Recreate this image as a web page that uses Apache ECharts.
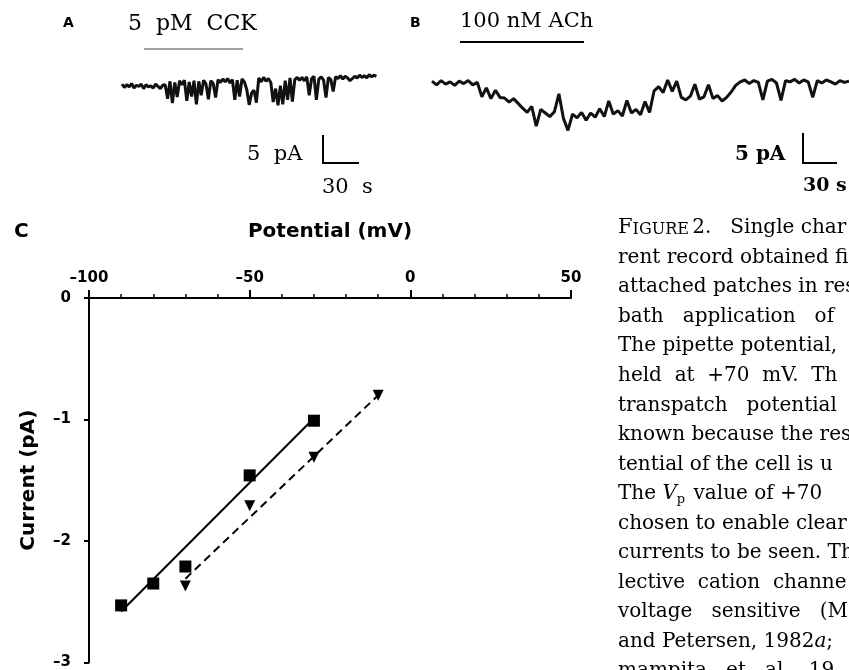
<!DOCTYPE html>
<html>
<head>
<meta charset="utf-8">
<script src="https://cdn.jsdelivr.net/npm/echarts@6/dist/echarts.min.js"></script>
<style>
  html, body { margin: 0; padding: 0; background: #fff; }
  #chart { width: 849px; height: 670px; }
</style>
</head>
<body>
<div id="chart"></div>
<script>
// trace A: 5 pM CCK, current (pA) sampled every 2 s
const dtA = 2
const traceA = [
  -0.2, -0.8, -0.3, -0.7, -0.1, -0.9, -0.4, -0.6, -0.2, -1.0, -0.3, -0.7, -0.5, -0.9, -0.2, -0.6, -1.0, -0.4, -0.3,
  -2.8, 0.3, -3.6, 0.1, -2.5, 0.4, -0.3, 0.5, -3.2, 0.2, -2.4, 0.4, -3.8, 0.3, -2.2, 0.5, -0.2, -2.9, 0.4, -0.1,
  -2.6, 0.6, 0.1, 0.7, 0.2, 0.8, 0.0, 0.6, -3.0, 0.5, -2.4, 0.7, 0.2,
  -1.2, -3.9, -1.8, -1.3, -3.5,
  0.9, 0.2, 1.0, 0.3, 0.8, 0.1, -3.4,
  -1.0, -4.0, -0.5, -3.8,
  0.4, -3.0, 0.9, -3.3, 0.6, 1.0, 0.5,
  1.0, 0.4, 1.1, -2.2, 0.8, 1.2, -3.0, 0.7, 1.1, 0.5, -2.6, 1.0, 0.6, -1.5, 1.1, 0.8,
  1.3, 0.7, 1.2, 0.9, 0.4, 0.8, 1.2, 0.9, 1.4, 1.0, 1.3, 0.9, 1.5, 1.1, 1.4, 1.2
]

// trace B: 100 nM ACh, current (pA) sampled every 4 s
const dtB = 4
const traceB = [
  0.3, -0.3, 0.4, -0.2, 0.2, -0.4, 0.3, -0.1, 0.4, -0.3, 0.1,
  -2.3, -0.8, -2.6, -1.2, -2.4,
  -2.5, -3.2, -2.6, -3.4,
  -4.2, -4.9, -3.9, -7.2, -4.4, -5.0,
  -5.6, -4.8, -1.8, -5.9, -7.9, -5.2, -5.8, -4.9, -6.2, -5.0, -5.7,
  -4.3, -5.6, -3.0, -5.2, -4.6, -5.5, -2.9, -5.0, -4.4, -5.3, -3.1, -4.9,
  -1.3, -0.6, -1.6, 0.5, -1.4, 0.3,
  -2.4, -2.8, -2.2, -0.2, -2.7, -2.3, -0.3, -2.6, -2.1, -3.0, -2.4,
  -1.5, -0.4,
  0.2, 0.5, -0.1, 0.4, 0.1, -2.8, 0.3, 0.6, 0.0, -2.9, 0.4, 0.2, 0.6, 0.0, 0.5, 0.2, -2.4, 0.4, 0.0, 0.5, 0.2, -0.2, 0.4, 0.1, 0.3
]

// panel C: single channel current vs potential
const squareV = [-90, -80, -70, -50, -30]
const squareI = [-2.53, -2.35, -2.21, -1.46, -1.01]
const triV = [-70, -50, -30, -10]
const triI = [-2.37, -1.71, -1.31, -0.80]
// regression lines (end points)
const fitSolidV = [-90, -30]
const fitSolidI = [-2.58, -0.99]
const fitDashV = [-70, -10]
const fitDashI = [-2.31, -0.80]

const caption = [
  '{sc|F}{sm|IGURE} {t|2.   Single char}',
  '{t|rent record obtained fi}',
  '{t|attached patches in res}',
  '{t|bath   application   of}',
  '{t|The pipette potential,}',
  '{t|held  at  +70  mV.  Th}',
  '{t|transpatch   potential}',
  '{t|known because the res}',
  '{t|tential of the cell is u}',
  '{t|The }{i|V}{sub|p}{t| value of +70}',
  '{t|chosen to enable clear}',
  '{t|currents to be seen. Th}',
  '{t|lective  cation  channe}',
  '{t|voltage   sensitive   (M}',
  '{t|and Petersen, 1982}{i|a}{t|;}',
  '{t|mampita   et   al.   19}'
]

const serif = 'DejaVu Serif'
const sans = 'DejaVu Sans'

function toPairs (xs, ys) {
  return xs.map((x, i) => [x, ys[i]])
}

let graphic = []

// panel letters
graphic.push({ type: 'text', x: 63, y: 23, style: { text: 'A', font: 'bold 14px ' + sans, fill: '#000', textVerticalAlign: 'middle' } })
graphic.push({ type: 'text', x: 410, y: 23, style: { text: 'B', font: 'bold 14px ' + sans, fill: '#000', textVerticalAlign: 'middle' } })
graphic.push({ type: 'text', x: 14, y: 232, style: { text: 'C', font: 'bold 20px ' + sans, fill: '#000', textVerticalAlign: 'middle' } })

// drug application labels + bars
graphic.push({ type: 'text', x: 128, y: 24, style: { text: '5  pM  CCK', font: '22px ' + serif, fill: '#000', textVerticalAlign: 'middle' } })
graphic.push({ type: 'line', shape: { x1: 144, y1: 49, x2: 243, y2: 49 }, style: { stroke: '#444', lineWidth: 1.2 } })
graphic.push({ type: 'text', x: 460, y: 22, style: { text: '100 nM ACh', font: '21px ' + serif, fill: '#000', textVerticalAlign: 'middle' } })
graphic.push({ type: 'line', shape: { x1: 460, y1: 42, x2: 584, y2: 42 }, style: { stroke: '#000', lineWidth: 2 } })

// scale bars
graphic.push({ type: 'polyline', shape: { points: [[323, 135], [323, 163], [359, 163]] }, style: { stroke: '#000', lineWidth: 2, fill: null } })
graphic.push({ type: 'text', x: 247, y: 155, style: { text: '5  pA', font: '21px ' + serif, fill: '#000', textVerticalAlign: 'middle' } })
graphic.push({ type: 'text', x: 322, y: 188, style: { text: '30  s', font: '21px ' + serif, fill: '#000', textVerticalAlign: 'middle' } })
graphic.push({ type: 'polyline', shape: { points: [[803, 133], [803, 163], [837, 163]] }, style: { stroke: '#000', lineWidth: 2, fill: null } })
graphic.push({ type: 'text', x: 735, y: 155, style: { text: '5 pA', font: 'bold 20px ' + serif, fill: '#000', textVerticalAlign: 'middle' } })
graphic.push({ type: 'text', x: 803, y: 186, style: { text: '30 s', font: 'bold 19px ' + serif, fill: '#000', textVerticalAlign: 'middle' } })

// figure legend text on the right (cut off by the page edge)
caption.forEach((line, i) => {
  graphic.push({
    type: 'text',
    x: 618,
    y: 228 + 29.55 * i,
    style: {
      text: line,
      textVerticalAlign: 'middle',
      rich: {
        t: { fontFamily: serif, fontSize: 20, color: '#000' },
        i: { fontFamily: serif, fontSize: 20, fontStyle: 'italic', color: '#000' },
        sub: { fontFamily: serif, fontSize: 13, color: '#000', padding: [12, 2, 0, 0] },
        sc: { fontFamily: serif, fontSize: 21, color: '#000' },
        sm: { fontFamily: serif, fontSize: 16, color: '#000', padding: [3, 0, 0, 0] }
      }
    }
  })
})

const traceStyle = { color: '#111', width: 3 }

let option = {
  backgroundColor: '#fff',
  animation: false,
  grid: [
    { left: 122, top: 66.2, width: 255, height: 44.8 },
    { left: 432, top: 65, width: 417, height: 72 },
    { left: 89, top: 298, width: 482, height: 365 }
  ],
  xAxis: [
    { gridIndex: 0, type: 'value', min: 0, max: 212.5, show: false },
    { gridIndex: 1, type: 'value', min: 0, max: 368, show: false },
    {
      gridIndex: 2,
      type: 'value',
      position: 'top',
      min: -100,
      max: 50,
      interval: 50,
      name: 'Potential (mV)',
      nameLocation: 'middle',
      nameGap: 56,
      nameTextStyle: { fontFamily: sans, fontWeight: 'bold', fontSize: 20, color: '#000' },
      axisLine: { show: true, onZero: false, lineStyle: { color: '#000', width: 2 } },
      axisTick: { show: true, length: 8, lineStyle: { color: '#000', width: 2 } },
      minorTick: { show: true, splitNumber: 5, length: 4, lineStyle: { color: '#000', width: 1.5 } },
      splitLine: { show: false },
      axisLabel: {
        margin: 12,
        fontFamily: sans,
        fontWeight: 'bold',
        fontSize: 15,
        color: '#000',
        formatter: v => String(v).replace('-', '\u2013')
      }
    }
  ],
  yAxis: [
    { gridIndex: 0, type: 'value', min: -5, max: 3, show: false },
    { gridIndex: 1, type: 'value', min: -9, max: 3, show: false },
    {
      gridIndex: 2,
      type: 'value',
      min: -3,
      max: 0,
      interval: 1,
      name: 'Current (pA)',
      nameLocation: 'middle',
      nameGap: 50,
      nameRotate: 90,
      nameTextStyle: { fontFamily: sans, fontWeight: 'bold', fontSize: 20, color: '#000' },
      axisLine: { show: true, onZero: false, lineStyle: { color: '#000', width: 2 } },
      axisTick: { show: true, length: 5, lineStyle: { color: '#000', width: 2 } },
      splitLine: { show: false },
      axisLabel: {
        margin: 18,
        fontFamily: sans,
        fontWeight: 'bold',
        fontSize: 15,
        color: '#000',
        formatter: v => String(v).replace('-', '\u2013')
      }
    }
  ],
  series: [
    {
      type: 'line',
      xAxisIndex: 0,
      yAxisIndex: 0,
      symbol: 'none',
      lineStyle: traceStyle,
      data: traceA.map((v, i) => [i * dtA, v])
    },
    {
      type: 'line',
      xAxisIndex: 1,
      yAxisIndex: 1,
      symbol: 'none',
      lineStyle: traceStyle,
      data: traceB.map((v, i) => [i * dtB, v])
    },
    {
      type: 'line',
      xAxisIndex: 2,
      yAxisIndex: 2,
      symbol: 'none',
      lineStyle: { color: '#000', width: 2 },
      data: toPairs(fitSolidV, fitSolidI)
    },
    {
      type: 'line',
      xAxisIndex: 2,
      yAxisIndex: 2,
      symbol: 'none',
      lineStyle: { color: '#000', width: 2, type: [8, 5] },
      data: toPairs(fitDashV, fitDashI)
    },
    {
      type: 'scatter',
      xAxisIndex: 2,
      yAxisIndex: 2,
      symbol: 'rect',
      symbolSize: 12,
      itemStyle: { color: '#000', opacity: 1 },
      data: toPairs(squareV, squareI)
    },
    {
      type: 'scatter',
      xAxisIndex: 2,
      yAxisIndex: 2,
      symbol: 'triangle',
      symbolRotate: 180,
      symbolSize: 11,
      itemStyle: { color: '#000', opacity: 1 },
      data: toPairs(triV, triI)
    }
  ],
  graphic: graphic
}

let myChart = echarts.init(document.getElementById('chart'))
myChart.setOption(option)
</script>
</body>
</html>
